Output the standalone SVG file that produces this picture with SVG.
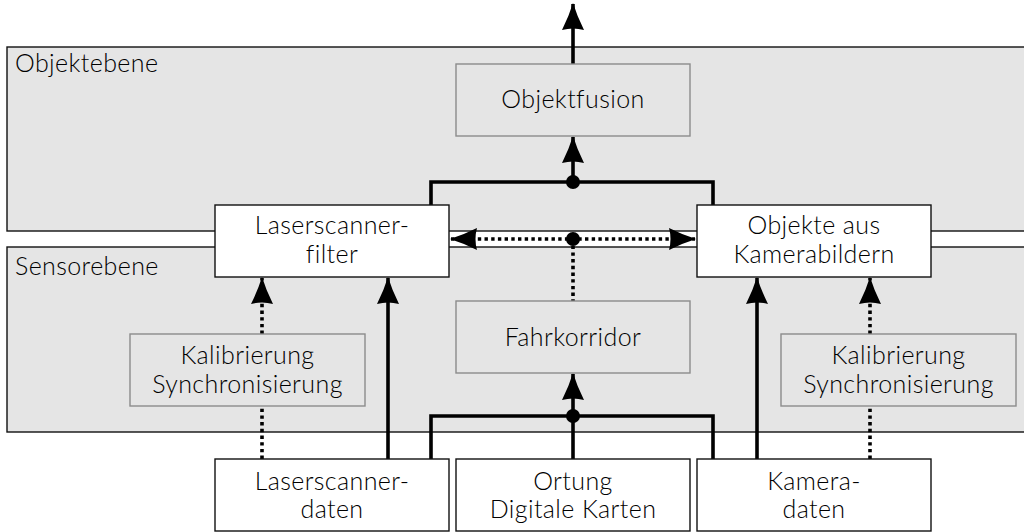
<svg xmlns="http://www.w3.org/2000/svg" width="1024" height="532" viewBox="0 0 1024 532">
  <style>
    text { font-family: Lato, "Open Sans", "DejaVu Sans", sans-serif; font-size: 25px; font-weight: 300; letter-spacing: 0.4px; fill: #000; }
    .c { text-anchor: middle; }
    .layer { fill: #e5e5e5; stroke: #111; stroke-width: 1.4; }
    .box { fill: #fff; stroke: #111; stroke-width: 1.4; }
    .gbox { fill: #e5e5e5; stroke: #8c8c8c; stroke-width: 1.4; }
    .solid { fill: none; stroke: #000; stroke-width: 3.6; }
    .dot { fill: none; stroke: #000; stroke-width: 3.6; stroke-dasharray: 3.4 3.3; }
    .joint { fill: #000; }
  </style>
  <defs>
    <!-- filled arrowhead with gently curved flanks -->
    <marker id="head" viewBox="0 0 27 22" refX="26" refY="11" markerWidth="27" markerHeight="22" markerUnits="userSpaceOnUse" orient="auto-start-reverse">
      <path d="M27 11 Q14 7 0 0 Q3 11 0 22 Q14 15 27 11 Z" fill="#000"/>
    </marker>
  </defs>

  <!-- layers -->
  <g id="objektebene">
    <rect class="layer" x="7" y="47" width="1030" height="184"/>
    <text x="15" y="72">Objektebene</text>
  </g>
  <g id="sensorebene">
    <rect class="layer" x="7" y="247" width="1030" height="185"/>
    <text x="15" y="275">Sensorebene</text>
  </g>

  <!-- connectors -->
  <g id="connectors">
    <line class="solid" x1="573" y1="64" x2="573" y2="4" marker-end="url(#head)"/>
    <polyline class="solid" points="431,205 431,182 713,182 713,205"/>
    <line class="solid" x1="573" y1="182" x2="573" y2="137" marker-end="url(#head)"/>
    <circle class="joint" cx="573" cy="182" r="7"/>

    <line class="dot" x1="451" y1="239" x2="695" y2="239" marker-start="url(#head)" marker-end="url(#head)"/>
    <line class="dot" x1="573" y1="239" x2="573" y2="301"/>
    <circle class="joint" cx="573" cy="239" r="7"/>

    <polyline class="solid" points="431,459 431,416 713,416 713,459"/>
    <line class="solid" x1="573" y1="459" x2="573" y2="416"/>
    <line class="solid" x1="573" y1="416" x2="573" y2="374" marker-end="url(#head)"/>
    <circle class="joint" cx="573" cy="416" r="7"/>

    <line class="solid" x1="388" y1="459" x2="388" y2="278" marker-end="url(#head)"/>
    <line class="solid" x1="757" y1="459" x2="757" y2="278" marker-end="url(#head)"/>

    <line class="dot" x1="262" y1="459" x2="262" y2="406"/>
    <line class="dot" x1="262" y1="334" x2="262" y2="278" marker-end="url(#head)"/>
    <line class="dot" x1="870" y1="459" x2="870" y2="406"/>
    <line class="dot" x1="870" y1="334" x2="870" y2="278" marker-end="url(#head)"/>
  </g>

  <!-- nodes -->
  <g id="objektfusion">
    <rect class="gbox" x="456" y="64" width="234" height="72"/>
    <text class="c" x="573" y="108">Objektfusion</text>
  </g>
  <g id="laserscannerfilter">
    <rect class="box" x="215" y="205" width="234" height="72"/>
    <text class="c" x="332" y="234">Laserscanner-</text>
    <text class="c" x="332" y="263">filter</text>
  </g>
  <g id="kameraobjekte">
    <rect class="box" x="697" y="205" width="234" height="72"/>
    <text class="c" x="814" y="234">Objekte aus</text>
    <text class="c" x="814" y="263">Kamerabildern</text>
  </g>
  <g id="fahrkorridor">
    <rect class="gbox" x="456" y="301" width="234" height="72"/>
    <text class="c" x="573" y="346">Fahrkorridor</text>
  </g>
  <g id="kalibrierung-laser">
    <rect class="gbox" x="130" y="334" width="235" height="72"/>
    <text class="c" x="247.5" y="364">Kalibrierung</text>
    <text class="c" x="247.5" y="393">Synchronisierung</text>
  </g>
  <g id="kalibrierung-kamera">
    <rect class="gbox" x="781" y="334" width="235" height="72"/>
    <text class="c" x="898.5" y="364">Kalibrierung</text>
    <text class="c" x="898.5" y="393">Synchronisierung</text>
  </g>
  <g id="laserscannerdaten">
    <rect class="box" x="215" y="459" width="234" height="72"/>
    <text class="c" x="332" y="490">Laserscanner-</text>
    <text class="c" x="332" y="518">daten</text>
  </g>
  <g id="ortung">
    <rect class="box" x="456" y="459" width="234" height="72"/>
    <text class="c" x="573" y="490">Ortung</text>
    <text class="c" x="573" y="518">Digitale Karten</text>
  </g>
  <g id="kameradaten">
    <rect class="box" x="697" y="459" width="234" height="72"/>
    <text class="c" x="814" y="490">Kamera-</text>
    <text class="c" x="814" y="518">daten</text>
  </g>
</svg>
